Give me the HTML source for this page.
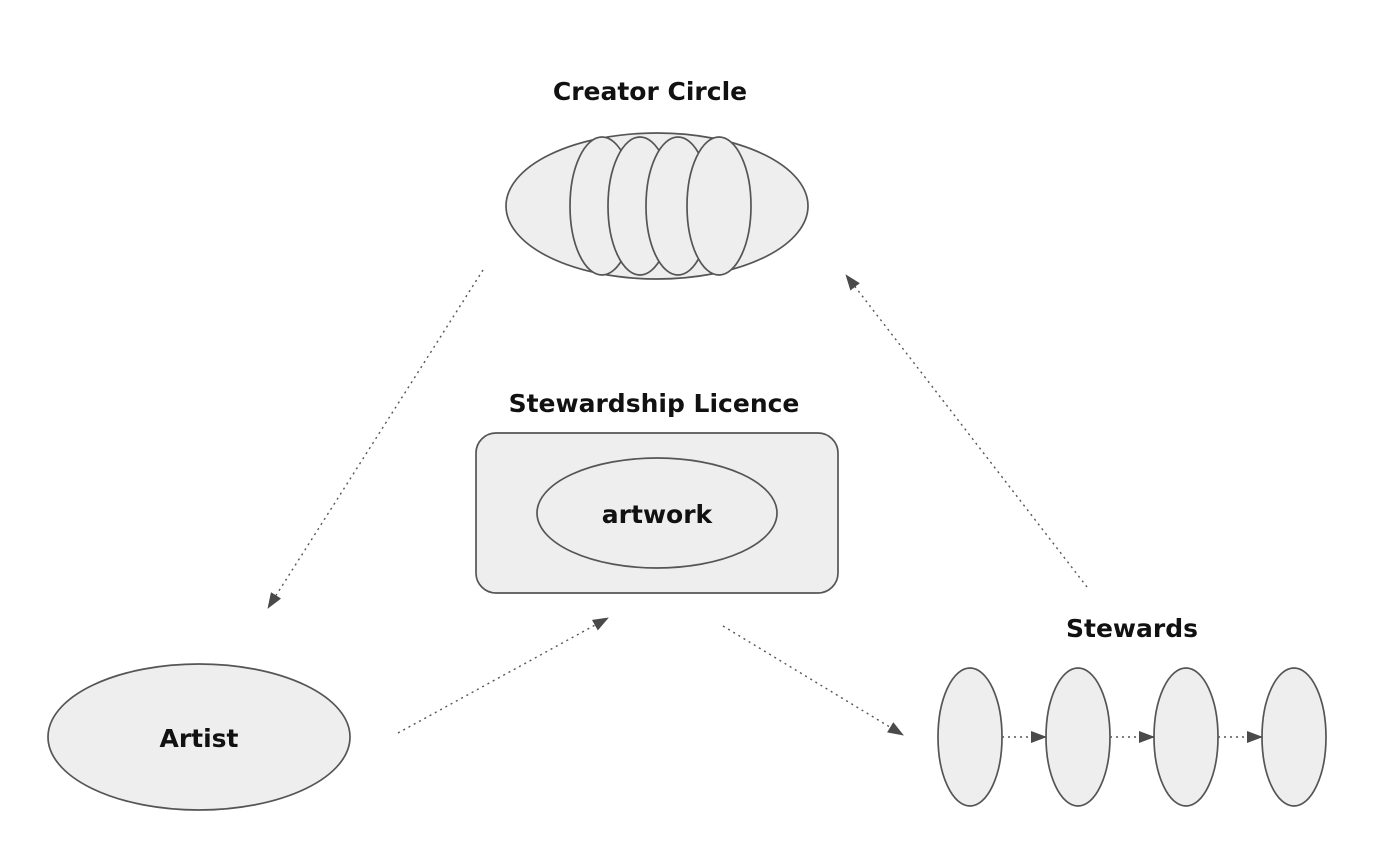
<!DOCTYPE html>
<html><head><meta charset="utf-8"><style>
html,body{margin:0;padding:0;background:#fff;}
svg{display:block;}
text{font-family:"DejaVu Sans","Liberation Sans",sans-serif;font-weight:bold;fill:#111;}
</style></head><body>
<svg width="1398" height="843" viewBox="0 0 1398 843" xmlns="http://www.w3.org/2000/svg">
<defs>
<marker id="b" markerWidth="16" markerHeight="12" refX="15" refY="6" orient="auto" markerUnits="userSpaceOnUse" viewBox="0 0 16 12">
<path d="M0,0 L16,6 L0,12 z" fill="#4a4a4a"/>
</marker>
</defs>
<g fill="#eeeeee" stroke="#555" stroke-width="1.7">
<ellipse cx="657" cy="206" rx="151" ry="73"/>
<ellipse cx="602" cy="206" rx="32" ry="69"/>
<ellipse cx="640" cy="206" rx="32" ry="69"/>
<ellipse cx="678" cy="206" rx="32" ry="69"/>
<ellipse cx="719" cy="206" rx="32" ry="69"/>
<rect x="476" y="433" width="362" height="160" rx="20"/>
<ellipse cx="657" cy="513" rx="120" ry="55"/>
<ellipse cx="199" cy="737" rx="151" ry="73"/>
<ellipse cx="970" cy="737" rx="32" ry="69"/>
<ellipse cx="1078" cy="737" rx="32" ry="69"/>
<ellipse cx="1186" cy="737" rx="32" ry="69"/>
<ellipse cx="1294" cy="737" rx="32" ry="69"/>
</g>
<g stroke="#555" stroke-width="1.4" stroke-dasharray="2,4" fill="none">
<line x1="483" y1="270" x2="268" y2="608" marker-end="url(#b)"/>
<line x1="398" y1="733" x2="608" y2="618" marker-end="url(#b)"/>
<line x1="723" y1="626" x2="903" y2="735" marker-end="url(#b)"/>
<line x1="1087" y1="587" x2="846" y2="275" marker-end="url(#b)"/>
<line x1="1002" y1="737" x2="1046" y2="737" marker-end="url(#b)"/>
<line x1="1110" y1="737" x2="1154" y2="737" marker-end="url(#b)"/>
<line x1="1218" y1="737" x2="1262" y2="737" marker-end="url(#b)"/>
</g>
<g font-size="25" text-anchor="middle">
<text x="650" y="100">Creator Circle</text>
<text x="654" y="412">Stewardship Licence</text>
<text x="657" y="523">artwork</text>
<text x="199" y="747">Artist</text>
<text x="1132" y="637">Stewards</text>
</g>
</svg>
</body></html>
